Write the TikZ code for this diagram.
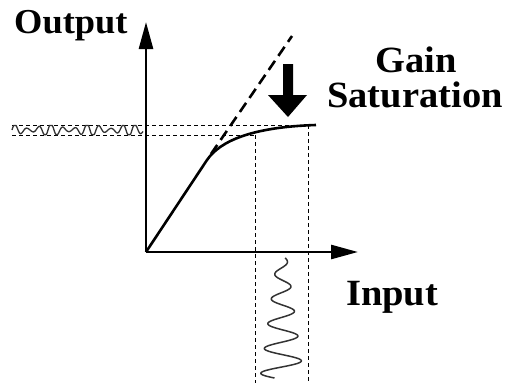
\documentclass[tikz,border=0pt]{standalone}
\usepackage{fontspec}
\setmainfont{Liberation Serif}
\newfontfamily\widefont[FakeStretch=1.04]{Liberation Serif}
\usetikzlibrary{arrows.meta}
\begin{document}
\begin{tikzpicture}[x=1pt,y=-1pt,
  axis/.style={line width=2.6pt,-{Triangle[length=27pt,width=14pt]}},
  guide/.style={line width=0.8pt,dash pattern=on 4pt off 3pt},
  lin/.style={line width=2.6pt,dash pattern=on 11pt off 6pt},
  curve/.style={line width=2.6pt},
  wave/.style={line width=1.5pt,black!80,line join=round},
  lbl/.style={font=\widefont\fontsize{37}{39}\selectfont\bfseries,inner sep=0pt}]
\useasboundingbox (0,0) rectangle (507,383);
% coordinates
\coordinate (O) at (146,252);
\coordinate (Ytip) at (146,22);
\coordinate (Xtip) at (358,252);
\coordinate (K) at (207,160);
\coordinate (S) at (316,125);
\coordinate (L0) at (211,154);
\coordinate (L1) at (292,36);
\coordinate (H1a) at (12,125);
\coordinate (H1b) at (316,125);
\coordinate (H2a) at (12,135);
\coordinate (H2b) at (255,135);
\coordinate (V1a) at (255,135);
\coordinate (V1b) at (255,383);
\coordinate (V2a) at (308,125);
\coordinate (V2b) at (308,383);
% guides
\draw[guide] (H1a) -- (H1b);
\draw[guide] (H2a) -- (H2b);
\draw[guide] (V1a) -- (V1b);
\draw[guide] (V2a) -- (V2b);
% linear extension
\draw[lin] (L0) -- (L1);
% axes
\draw[axis] (O) -- (Ytip);
\draw[axis] (O) -- (Xtip);
% gain curve
\draw[curve,line join=round] (O) -- (K) .. controls (220,141) and (252,127) .. (S);
% big arrow
\fill[black] (283,64) -- (293,64) -- (293,95) -- (307,95) -- (288,117) -- (268,95) -- (283,95) -- cycle;
% output waveform
\draw[wave,line width=1.3pt] plot[domain=12:143,samples=200,smooth]
  (\x,{130 - max(-4.6,min(4.6,(4+2.4*sin(\x*9))*sin((\x-12)*30)))});
% input waveform
\draw[wave] plot[domain=0:120,samples=240,smooth]
  ({282 + (5+0.14*\x)*sin(\x*14.5+40)},{258+\x});
% labels
\node[lbl,font=\widefont\fontsize{35}{37}\selectfont\bfseries,anchor=base west] (out) at (14,33) {Output};
\node[lbl,anchor=base] (gain) at (416,72) {Gain};
\node[lbl,anchor=base] (sat) at (415,107) {Saturation};
\node[lbl,anchor=base west] (in) at (346,305) {Input};
\end{tikzpicture}
\end{document}
